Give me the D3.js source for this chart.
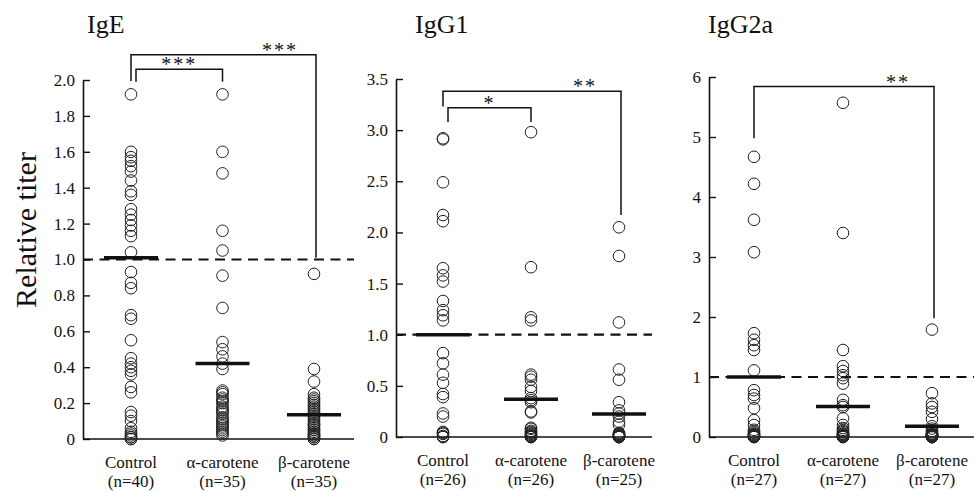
<!DOCTYPE html>
<html>
<head>
<meta charset="utf-8">
<script src="https://cdn.jsdelivr.net/npm/d3@7"></script>
<style>
  html, body { margin: 0; padding: 0; background: #fff; }
  svg { display: block; }
  text { font-family: "Liberation Serif", "DejaVu Serif", serif; fill: #111; }
</style>
</head>
<body>
<script>
'use strict';

// groups and panels
var groups = ['Control', 'α-carotene', 'β-carotene'];
var panelNames = ['IgE', 'IgG1', 'IgG2a'];
var sampleSizes = [[40, 35, 35], [26, 26, 25], [27, 27, 27]];

// individual relative titers (Control, alpha, beta)
var igeValues = [
  [1.92, 1.60, 1.57, 1.55, 1.52, 1.49, 1.44, 1.38, 1.36, 1.28, 1.25, 1.22, 1.19, 1.16, 1.13,
   1.04, 0.93, 0.87, 0.84, 0.69, 0.67, 0.55, 0.45, 0.42, 0.40, 0.38, 0.36, 0.29, 0.26, 0.15,
   0.13, 0.10, 0.06, 0.04, 0.03, 0.02, 0.01, 0.01, 0.0, 0.0],
  [1.92, 1.60, 1.48, 1.16, 1.05, 0.91, 0.73, 0.54, 0.50, 0.46, 0.42, 0.39, 0.27, 0.26, 0.25,
   0.23, 0.22, 0.21, 0.20, 0.18, 0.17, 0.16, 0.15, 0.14, 0.12, 0.11, 0.10, 0.09, 0.08, 0.07,
   0.06, 0.05, 0.04, 0.03, 0.02],
  [0.92, 0.39, 0.32, 0.25, 0.23, 0.22, 0.21, 0.20, 0.19, 0.18, 0.17, 0.16, 0.15, 0.14, 0.14,
   0.13, 0.12, 0.11, 0.10, 0.09, 0.08, 0.08, 0.07, 0.06, 0.05, 0.05, 0.04, 0.03, 0.03, 0.02,
   0.02, 0.01, 0.01, 0.0, 0.0]
];
var igg1Values = [
  [2.92, 2.91, 2.49, 2.17, 2.11, 1.65, 1.58, 1.52, 1.33, 1.24, 1.19, 1.14, 0.82, 0.72, 0.61,
   0.53, 0.42, 0.39, 0.23, 0.20, 0.05, 0.04, 0.03, 0.01, 0.0, 0.0],
  [2.98, 1.66, 1.17, 1.14, 0.61, 0.59, 0.56, 0.49, 0.45, 0.38, 0.36, 0.34, 0.25, 0.24, 0.09,
   0.08, 0.06, 0.05, 0.04, 0.03, 0.02, 0.01, 0.01, 0.0, 0.0, 0.0],
  [2.05, 1.77, 1.12, 0.66, 0.56, 0.34, 0.26, 0.23, 0.20, 0.15, 0.12, 0.04, 0.03, 0.03, 0.02,
   0.02, 0.01, 0.01, 0.01, 0.0, 0.0, 0.0, 0.0, 0.0, 0.0]
];
var igg2aValues = [
  [4.67, 4.22, 3.62, 3.08, 1.73, 1.62, 1.53, 1.45, 1.11, 0.78, 0.70, 0.64, 0.48, 0.28, 0.20,
   0.12, 0.09, 0.07, 0.05, 0.04, 0.03, 0.02, 0.01, 0.01, 0.0, 0.0, 0.0],
  [5.57, 3.40, 1.45, 1.18, 1.10, 1.03, 0.98, 0.89, 0.62, 0.53, 0.50, 0.31, 0.20, 0.15, 0.12,
   0.10, 0.08, 0.06, 0.05, 0.04, 0.03, 0.02, 0.01, 0.01, 0.0, 0.0, 0.0],
  [1.79, 0.73, 0.56, 0.50, 0.42, 0.30, 0.18, 0.14, 0.10, 0.08, 0.06, 0.05, 0.04, 0.04, 0.03,
   0.03, 0.02, 0.02, 0.01, 0.01, 0.01, 0.0, 0.0, 0.0, 0.0, 0.0, 0.0]
];
var panelValues = [igeValues, igg1Values, igg2aValues];

// group means drawn as thick bars
var groupMeans = [[1.01, 0.42, 0.135], [1.0, 0.37, 0.225], [1.0, 0.51, 0.18]];
var referenceLevel = 1.0;

// y axes
var yMax = [2.0, 3.5, 6];
var yTicks = [
  [0, 0.2, 0.4, 0.6, 0.8, 1.0, 1.2, 1.4, 1.6, 1.8, 2.0],
  [0, 0.5, 1.0, 1.5, 2.0, 2.5, 3.0, 3.5],
  [0, 1, 2, 3, 4, 5, 6]
];
var yTickLabels = [
  ['0', '0.2', '0.4', '0.6', '0.8', '1.0', '1.2', '1.4', '1.6', '1.8', '2.0'],
  ['0', '0.5', '1.0', '1.5', '2.0', '2.5', '3.0', '3.5'],
  ['0', '1', '2', '3', '4', '5', '6']
];

// significance brackets (group indices, level in data units)
var brackets = [
  [{from: 0, to: 1, label: '***', top: 2.06, legs: [1.99, 1.99], labelAt: 'mid'},
   {from: 0, to: 2, label: '***', top: 2.14, legs: [1.995, 1.01], labelAt: 'end'}],
  [{from: 0, to: 1, label: '*', top: 3.22, legs: [3.08, 3.08], labelAt: 'mid'},
   {from: 0, to: 2, label: '**', top: 3.38, legs: [3.23, 2.17], labelAt: 'end'}],
  [{from: 0, to: 2, label: '**', top: 5.84, legs: [4.98, 1.98], labelAt: 'end'}]
];

// page layout
var width = 974;
var height = 492;
var serif = '"Liberation Serif", "DejaVu Serif", serif';
var layout = [
  {left: 83, right: 354, top: 80, bottom: 439, first: 131, last: 314, titleX: 87},
  {left: 396, right: 652, top: 79, bottom: 437, first: 443, last: 619, titleX: 415},
  {left: 709, right: 976, top: 77, bottom: 437, first: 754, last: 932, titleX: 708}
];

var svg = d3.select('body').append('svg')
  .attr('width', width)
  .attr('height', height)
  .attr('font-family', serif);

svg.append('text')
  .attr('transform', 'translate(36,230) rotate(-90)')
  .attr('text-anchor', 'middle')
  .style('font-size', '30px')
  .text('Relative titer');

panelNames.forEach(function(name, p) {
  var box = layout[p];
  var g = svg.append('g');

  var y = d3.scaleLinear()
    .domain([0, yMax[p]])
    .range([box.bottom, box.top]);

  var x = d3.scalePoint()
    .domain(groups)
    .range([box.first, box.last]);

  // title
  g.append('text')
    .attr('x', box.titleX)
    .attr('y', 33)
    .style('font-size', '26px')
    .text(name);

  // y axis, ticks pointing inward
  var yAxis = g.append('g')
    .attr('transform', 'translate(' + box.left + ',0)')
    .call(d3.axisLeft(y)
      .tickValues(yTicks[p])
      .tickFormat(function(d, i) { return yTickLabels[p][i]; })
      .tickSizeInner(-7)
      .tickSizeOuter(0)
      .tickPadding(8));
  yAxis.attr('font-family', serif).attr('font-size', 17);
  yAxis.select('.domain').attr('stroke', '#111').attr('stroke-width', 1.6);
  yAxis.selectAll('.tick line').attr('stroke', '#111').attr('stroke-width', 1.4);
  yAxis.selectAll('.tick text').attr('fill', '#111');

  // x baseline
  g.append('line')
    .attr('x1', box.left)
    .attr('x2', box.right)
    .attr('y1', y(0))
    .attr('y2', y(0))
    .attr('stroke', '#111')
    .attr('stroke-width', 1.3);

  // dashed reference at 1.0
  g.append('line')
    .attr('x1', box.left)
    .attr('x2', box.right)
    .attr('y1', y(referenceLevel))
    .attr('y2', y(referenceLevel))
    .attr('stroke', '#111')
    .attr('stroke-width', 2.2)
    .attr('stroke-dasharray', '10,6.5');

  // category labels
  groups.forEach(function(grp, i) {
    g.append('text')
      .attr('x', x(grp))
      .attr('y', y(0) + 29)
      .attr('text-anchor', 'middle')
      .style('font-size', '17px')
      .text(grp);
    g.append('text')
      .attr('x', x(grp))
      .attr('y', y(0) + 48)
      .attr('text-anchor', 'middle')
      .style('font-size', '17px')
      .text('(n=' + sampleSizes[p][i] + ')');
  });

  // points
  groups.forEach(function(grp, i) {
    g.append('g')
      .selectAll('circle')
      .data(panelValues[p][i])
      .enter().append('circle')
      .attr('cx', x(grp))
      .attr('cy', function(d) { return y(d); })
      .attr('r', 5.8)
      .attr('fill', 'none')
      .attr('stroke', '#222')
      .attr('stroke-width', 1);
  });

  // mean bars
  g.append('g')
    .selectAll('line')
    .data(groupMeans[p])
    .enter().append('line')
    .attr('x1', function(d, i) { return x(groups[i]) - 27; })
    .attr('x2', function(d, i) { return x(groups[i]) + 27; })
    .attr('y1', function(d) { return y(d); })
    .attr('y2', function(d) { return y(d); })
    .attr('stroke', '#111')
    .attr('stroke-width', 3.5);

  // significance brackets
  brackets[p].forEach(function(b) {
    var inner = brackets[p].length > 1 && b.labelAt === 'mid';
    var xa = x(groups[b.from]) + (inner ? 5 : 0);
    var xb = x(groups[b.to]) + (inner ? 0 : 2);
    var yt = y(b.top);
    g.append('path')
      .attr('d', 'M' + xa + ',' + y(b.legs[0]) + 'V' + yt + 'H' + xb + 'V' + y(b.legs[1]))
      .attr('fill', 'none')
      .attr('stroke', '#111')
      .attr('stroke-width', 1.5);
    g.append('text')
      .attr('x', b.labelAt === 'mid' ? (xa + xb) / 2 : xb - 36)
      .attr('y', yt + 2)
      .attr('text-anchor', 'middle')
      .style('font-size', '20px')
      .style('letter-spacing', '2px')
      .text(b.label);
  });
});
</script>
</body>
</html>
